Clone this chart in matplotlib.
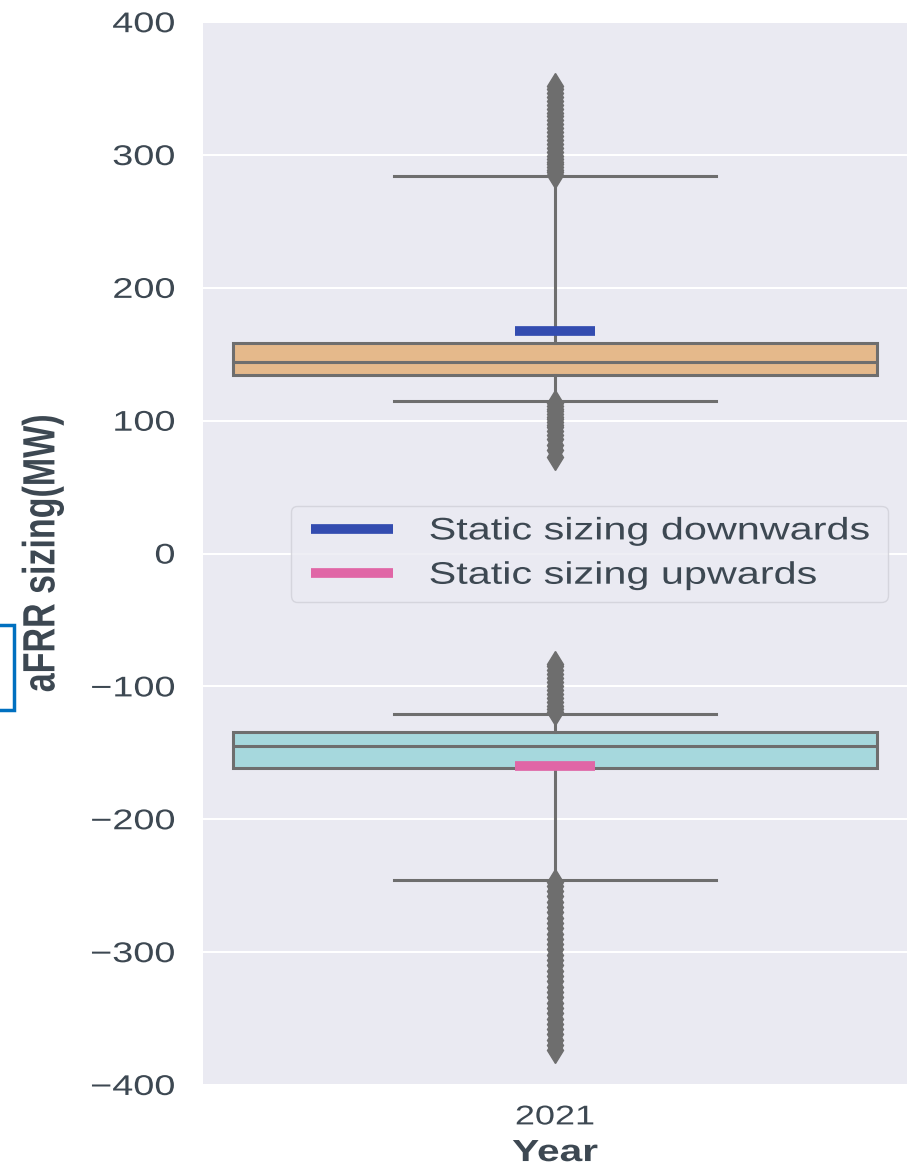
import numpy as np
import matplotlib.pyplot as plt
import matplotlib as mpl
from matplotlib import patches
from matplotlib.collections import LineCollection
from matplotlib.legend_handler import HandlerLineCollection
from matplotlib.patheffects import AbstractPathEffect
from matplotlib.transforms import Affine2D

# values (MW)
years = ["2021"]
up_stats = dict(med=144.5, q1=134.5, q3=158.5, whislo=115.0, whishi=284.0)
down_stats = dict(med=-145.0, q1=-161.5, q3=-134.5, whislo=-246.0, whishi=-121.0)

up_fliers_high = [285, 287, 289, 291, 293, 295, 297, 299, 302, 305, 308, 311, 314, 317,
                  320, 323, 326, 329, 332, 335, 338, 341, 344, 347, 350, 352]
up_fliers_low = [113, 111, 109, 107, 105, 103, 101, 99, 97, 95, 92, 89, 86, 82, 78, 73]
down_fliers_high = [-119, -117, -115, -112, -109, -106, -103, -100, -97, -94, -91, -88,
                    -85, -83]
down_fliers_low = [-247, -250, -254, -258, -262, -266, -270, -274, -278, -282, -286, -290,
                   -294, -298, -302, -306, -310, -314, -318, -322, -326, -330, -334, -338,
                   -342, -346, -350, -354, -358, -362, -366, -370, -374]

static_down = 167.5
static_up = -160.0


class Stretch(AbstractPathEffect):
    # the reference text looks wider than it is tall, so widen the glyphs
    def __init__(self, sx=1.0, sy=1.0, pivot='center'):
        super().__init__()
        self.sx, self.sy, self.pivot = sx, sy, pivot

    def draw_path(self, renderer, gc, tpath, affine, rgbFace=None):
        ext = tpath.get_extents()
        px = {'left': ext.x0, 'right': ext.x1}.get(self.pivot, (ext.x0 + ext.x1) / 2)
        py = (ext.y0 + ext.y1) / 2
        t = Affine2D().translate(-px, -py).scale(self.sx, self.sy).translate(px, py) + affine
        renderer.draw_path(gc, tpath, t, rgbFace)


SX = 1.33
txt = '#3d4852'
mpl.rcParams['font.family'] = 'Liberation Sans'
mpl.rcParams['text.color'] = txt
mpl.rcParams['axes.labelcolor'] = txt
mpl.rcParams['xtick.color'] = txt
mpl.rcParams['ytick.color'] = txt

fig = plt.figure(figsize=(9.1, 11.67), dpi=100)
ax = fig.add_axes([0.223, 0.0703, 0.774, 0.9107])
ax.set_facecolor('#eaeaf2')
for s in ax.spines.values():
    s.set_visible(False)
ax.grid(True, axis='y', color='white', linewidth=1.5)
ax.set_axisbelow(True)

edge = '#6e6e6e'
stats = []
for d, fl in [(up_stats, up_fliers_high + up_fliers_low),
              (down_stats, down_fliers_high + down_fliers_low)]:
    s = dict(d)
    s['fliers'] = np.array(fl, dtype=float)
    stats.append(s)

bp = ax.bxp(stats, positions=[0, 0], widths=0.915, patch_artist=True,
            boxprops=dict(edgecolor=edge, linewidth=2.2),
            medianprops=dict(color=edge, linewidth=2.2),
            whiskerprops=dict(color=edge, linewidth=2.2),
            capprops=dict(color=edge, linewidth=2.2),
            flierprops=dict(marker='d', markerfacecolor=edge, markeredgecolor=edge,
                            markersize=13, linestyle='none'))
bp['boxes'][0].set_facecolor('#e5b98b')
bp['boxes'][1].set_facecolor('#a6d8dd')

ax.hlines(static_down, -0.057, 0.057, color='#334cb0', linewidth=7,
          label='Static sizing downwards', zorder=5)
ax.hlines(static_up, -0.057, 0.057, color='#e066a6', linewidth=7,
          label='Static sizing upwards', zorder=5)

ax.set_xlim(-0.5, 0.5)
ax.set_ylim(-400, 400)
ax.set_yticks([-400, -300, -200, -100, 0, 100, 200, 300, 400])
ax.set_xticks([0])
ax.set_xticklabels(years)
ax.tick_params(axis='both', length=0)
ax.tick_params(axis='y', labelsize=20.5, pad=20)
ax.tick_params(axis='x', labelsize=19.5, pad=14)
for t in ax.get_yticklabels():
    t.set_path_effects([Stretch(sx=SX, pivot='right')])
for t in ax.get_xticklabels():
    t.set_path_effects([Stretch(sx=SX)])

ax.set_xlabel('Year', fontsize=22, fontweight='bold', labelpad=5.5,
              path_effects=[Stretch(sx=SX)])
ax.set_ylabel('aFRR sizing(MW)', fontsize=24.5, fontweight='bold',
              path_effects=[Stretch(sy=SX)])
ax.yaxis.set_label_coords(-0.205, 0.5)

leg = ax.legend(loc='center', bbox_to_anchor=(0.125, 0.4, 0.847, 0.2), mode='expand',
                borderaxespad=0, fontsize=22.4, frameon=True, facecolor='#eaeaf2',
                edgecolor='#d0d0d8', handlelength=2.94, handletextpad=1.15,
                borderpad=0.35, labelspacing=0.46,
                handler_map={LineCollection: HandlerLineCollection(xpad=0.3)})
for t in leg.get_texts():
    t.set_color(txt)
    t.set_path_effects([Stretch(sx=SX, pivot='left')])

# partial blue frame at left edge
fig.patches.append(patches.Rectangle((-0.01, 1 - 710 / 1167), 0.025, 85 / 1167,
                                     transform=fig.transFigure, fill=False,
                                     edgecolor='#0070c0', linewidth=2.5))

fig.savefig('out.png', dpi=100)
